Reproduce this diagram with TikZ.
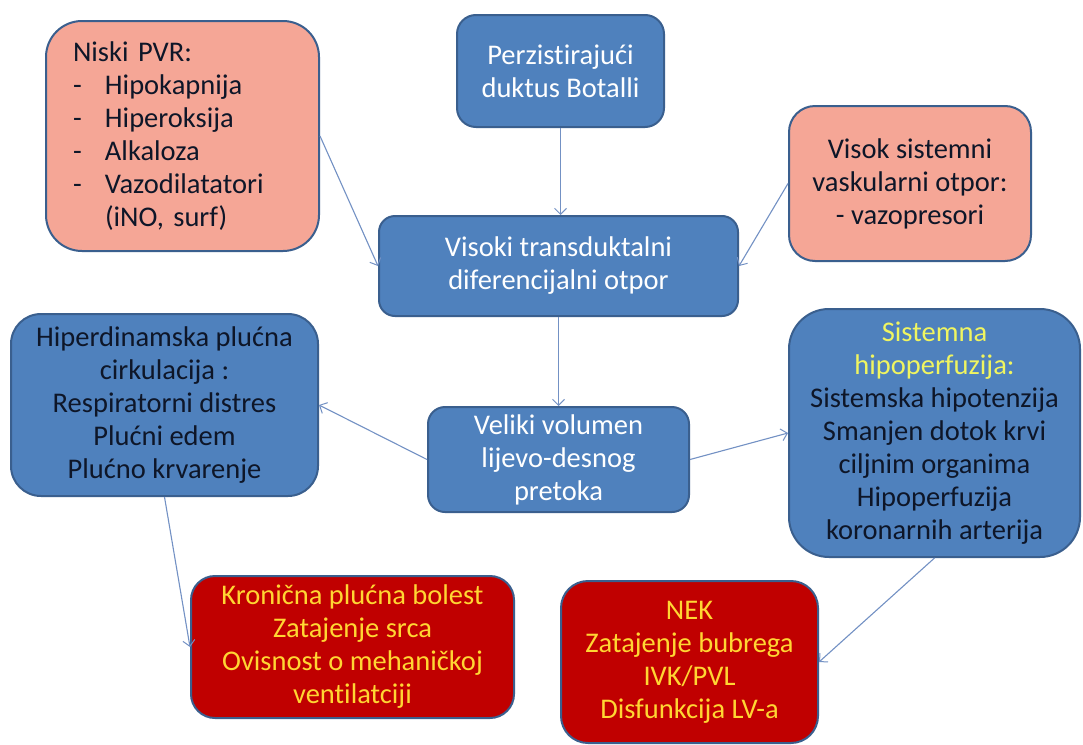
\documentclass[tikz,border=0pt]{standalone}
\usepackage{fontspec}
\setmainfont{Carlito}[Ligatures=NoCommon]
\usetikzlibrary{arrows.meta,calc}
\definecolor{boxblue}{HTML}{4F81BD}
\definecolor{edgeblue}{HTML}{3A5F8E}
\definecolor{salmon}{HTML}{F5A696}
\definecolor{darkred}{HTML}{C00000}
\definecolor{goldtxt}{HTML}{FFD633}
\definecolor{limetxt}{HTML}{F0F560}
\definecolor{inktxt}{HTML}{0E1628}
\definecolor{connblue}{HTML}{7391C4}
\tikzset{
  box/.style={draw=edgeblue, line width=2pt, rectangle, anchor=north west,
    align=center, inner sep=0pt, font=\fontsize{28.5}{33}\selectfont},
  bluebox/.style={box, fill=boxblue, text=white},
  bluedark/.style={box, fill=boxblue, text=inktxt},
  pinkbox/.style={box, fill=salmon, text=inktxt},
  redbox/.style={box, fill=darkred, text=goldtxt},
  conn/.style={draw=connblue, line width=1.1pt,
    -{Straight Barb[length=6pt,width=12pt,line width=1pt]}}
}
\begin{document}
\begin{tikzpicture}[x=1pt,y=-1pt]
\useasboundingbox (0,0) rectangle (1083,744);
\fill[white] (0,0) rectangle (1083,744);

\node[pinkbox, rounded corners=36pt, minimum width=273pt, minimum height=230pt,
  text width=219pt, align=left] (niski) at (45,20)
  {Niski PVR:\\
   \makebox[32pt][l]{-}Hipokapnija\\
   \makebox[32pt][l]{-}Hiperoksija\\
   \makebox[32pt][l]{-}Alkaloza\\
   \makebox[32pt][l]{-}Vazodilatatori\\
   \hspace*{32pt}(iNO, surf)};

\node[bluebox, rounded corners=19pt, minimum width=207pt, minimum height=112pt] (perz) at (456,14)
  {Perzistirajući\\duktus Botalli};

\node[pinkbox, rounded corners=26pt, minimum width=242pt, minimum height=155pt] (visok) at (788,105)
  {Visok sistemni\\vaskularni otpor:\\- vazopresori};

\node[bluebox, rounded corners=16pt, minimum width=359pt, minimum height=100pt] (visoki) at (378,215)
  {Visoki transduktalni\\diferencijalni otpor};

\node[bluedark, rounded corners=30pt, minimum width=307pt, minimum height=182pt] (hiper) at (10,313)
  {Hiperdinamska plućna\\cirkulacija :\\Respiratorni distres\\Plućni edem\\Plućno krvarenje};

\node[bluebox, rounded corners=17pt, minimum width=261pt, minimum height=105pt] (veliki) at (427,406)
  {Veliki volumen\\lijevo-desnog\\pretoka};

\node[bluedark, rounded corners=40pt, minimum width=291pt, minimum height=248pt] (sist) at (788,308)
  {\textcolor{limetxt}{Sistemna}\\\textcolor{limetxt}{hipoperfuzija:}\\Sistemska hipotenzija\\Smanjen dotok krvi\\ciljnim organima\\Hipoperfuzija\\koronarnih arterija};

\node[redbox, rounded corners=24pt, minimum width=323pt, minimum height=142pt] (kron) at (190,575)
  {Kronična plućna bolest\\Zatajenje srca\\Ovisnost o mehaničkoj\\ventilatciji};

\node[redbox, rounded corners=27pt, minimum width=257pt, minimum height=162pt] (nek) at (560,580)
  {NEK\\Zatajenje bubrega\\IVK/PVL\\Disfunkcija LV-a};

\draw[conn] (niski.east) -- (visoki.west);
\draw[conn] (perz.south) -- (perz.south |- visoki.north);
\draw[conn] (visok.west) -- (visoki.east);
\draw[conn] (visoki.south) -- (veliki.north);
\draw[conn] (veliki.west) -- (hiper.east);
\draw[conn] (veliki.east) -- (sist.west);
\draw[conn] (hiper.south) -- (kron.west);
\draw[conn] (sist.south) -- (nek.east);
\end{tikzpicture}
\end{document}
